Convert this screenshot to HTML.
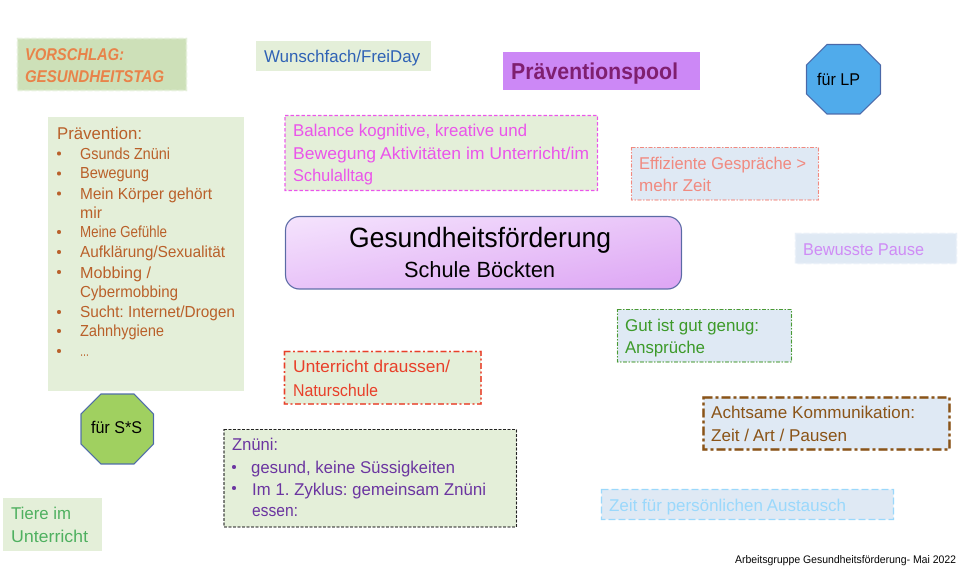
<!DOCTYPE html>
<html><head><meta charset="utf-8"><style>
html,body{margin:0;padding:0;background:#fff;width:970px;height:586px;overflow:hidden}
svg{display:block}
text{font-family:"Liberation Sans",sans-serif;font-size:17px;text-rendering:geometricPrecision}
</style></head><body>
<svg width="970" height="586" viewBox="0 0 970 586" xmlns="http://www.w3.org/2000/svg">
<defs><linearGradient id="g" x1="0" y1="0" x2="1" y2="1"><stop offset="0" stop-color="#f5e4fd"/><stop offset="1" stop-color="#dda5f4"/></linearGradient></defs>

<rect x="17.500" y="38.500" width="169" height="52" fill="#cde0b8" stroke="#e4efd9" stroke-width="1.500" stroke-dasharray="5 2"/>
<g fill="#e8834a">
<text x="25" y="60" textLength="99" lengthAdjust="spacingAndGlyphs" style="font-weight:bold;font-style:italic">VORSCHLAG:</text>
<text x="25" y="82" textLength="139" lengthAdjust="spacingAndGlyphs" style="font-weight:bold;font-style:italic">GESUNDHEITSTAG</text>
</g>

<rect x="256" y="41" width="175" height="30" fill="#e4efd9"/>
<text x="264" y="62" fill="#2f62b5" textLength="156" lengthAdjust="spacingAndGlyphs">Wunschfach/FreiDay</text>

<rect x="503" y="52" width="197" height="38" fill="#cc88f6"/>
<text x="511" y="79" fill="#7f1f70" textLength="167" lengthAdjust="spacingAndGlyphs" style="font-size:23px;font-weight:bold">Präventionspool</text>

<polygon points="827,44.500 860,44.500 880.500,65 880.500,94 860,114 827,114 806.500,94 806.500,65" fill="#50abeb" stroke="#4a68a8" stroke-width="1.200"/>
<text x="817" y="85" fill="#000" textLength="43" lengthAdjust="spacingAndGlyphs">für LP</text>

<rect x="48" y="117" width="196" height="274" fill="#e4efd9"/>
<g fill="#b9602a">
<text x="57" y="139" textLength="85" lengthAdjust="spacingAndGlyphs">Prävention:</text>
<circle cx="59" cy="153.500" r="2"/><text x="80" y="159" textLength="90" lengthAdjust="spacingAndGlyphs" style="font-size:16px">Gsunds Znüni</text>
<circle cx="59" cy="173.500" r="2"/><text x="80" y="178" textLength="69" lengthAdjust="spacingAndGlyphs" style="font-size:16px">Bewegung</text>
<circle cx="59" cy="193.500" r="2"/><text x="80" y="199" textLength="132" lengthAdjust="spacingAndGlyphs" style="font-size:16px">Mein Körper gehört</text>
<text x="80" y="218" textLength="22" lengthAdjust="spacingAndGlyphs" style="font-size:16px">mir</text>
<circle cx="59" cy="232" r="2"/><text x="80" y="237" textLength="87" lengthAdjust="spacingAndGlyphs" style="font-size:16px">Meine Gefühle</text>
<circle cx="59" cy="252" r="2"/><text x="80" y="257" textLength="145" lengthAdjust="spacingAndGlyphs" style="font-size:16px">Aufklärung/Sexualität</text>
<circle cx="59" cy="272" r="2"/><text x="80" y="278" textLength="71" lengthAdjust="spacingAndGlyphs" style="font-size:16px">Mobbing /</text>
<text x="80" y="297" textLength="98" lengthAdjust="spacingAndGlyphs" style="font-size:16px">Cybermobbing</text>
<circle cx="59" cy="312" r="2"/><text x="80" y="317" textLength="155" lengthAdjust="spacingAndGlyphs" style="font-size:16px">Sucht: Internet/Drogen</text>
<circle cx="59" cy="331" r="2"/><text x="80" y="336" textLength="84" lengthAdjust="spacingAndGlyphs" style="font-size:16px">Zahnhygiene</text>
<circle cx="59" cy="351" r="2"/><text x="80" y="356" textLength="9" lengthAdjust="spacingAndGlyphs" style="font-size:16px">…</text>
</g>

<rect x="285" y="115.500" width="312.500" height="75" fill="#e4efd9" stroke="#ea55ea" stroke-width="1.200" stroke-dasharray="3.500 2"/>
<g fill="#ea55ea">
<text x="293" y="136" textLength="234" lengthAdjust="spacingAndGlyphs">Balance kognitive, kreative und</text>
<text x="293" y="159" textLength="296" lengthAdjust="spacingAndGlyphs">Bewegung Aktivitäten im Unterricht/im</text>
<text x="293" y="181" textLength="80" lengthAdjust="spacingAndGlyphs">Schulalltag</text>
</g>

<rect x="285.500" y="216.500" width="396" height="72.500" rx="14" fill="url(#g)" stroke="#5a6aa5" stroke-width="1.200"/>
<text x="349" y="247" fill="#000" textLength="262" lengthAdjust="spacingAndGlyphs" style="font-size:28px">Gesundheitsförderung</text>
<text x="404" y="277" fill="#000" textLength="151" lengthAdjust="spacingAndGlyphs" style="font-size:22px">Schule Böckten</text>

<rect x="631.500" y="147.500" width="187" height="52.500" fill="#dfe9f4" stroke="#f08a80" stroke-width="1.100" stroke-dasharray="4 1.500 1.500 1.500"/>
<text x="639" y="169" fill="#f08a80" textLength="167" lengthAdjust="spacingAndGlyphs">Effiziente Gespräche &gt;</text>
<text x="639" y="191" fill="#f08a80" textLength="72" lengthAdjust="spacingAndGlyphs">mehr Zeit</text>

<rect x="795.500" y="233.500" width="161" height="30" fill="#dfe9f4" stroke="#e9f0f8" stroke-width="1.500" stroke-dasharray="6 2"/>
<text x="803" y="255" fill="#cf8cf5" textLength="121" lengthAdjust="spacingAndGlyphs">Bewusste Pause</text>

<rect x="617.500" y="309.500" width="174" height="52.500" fill="#dfe9f4" stroke="#4a9a35" stroke-width="1.100" stroke-dasharray="4 1.500 1.500 1.500"/>
<text x="625" y="331" fill="#3d9a2a" textLength="134" lengthAdjust="spacingAndGlyphs">Gut ist gut genug:</text>
<text x="625" y="353" fill="#3d9a2a" textLength="80" lengthAdjust="spacingAndGlyphs">Ansprüche</text>

<rect x="703.500" y="397.500" width="246" height="52" fill="#dfe9f4" stroke="#8a5418" stroke-width="2.500" stroke-dasharray="9 3 3 3"/>
<text x="711" y="418" fill="#8a5418" textLength="204" lengthAdjust="spacingAndGlyphs">Achtsame Kommunikation:</text>
<text x="711" y="441" fill="#8a5418" textLength="136" lengthAdjust="spacingAndGlyphs">Zeit / Art / Pausen</text>

<rect x="601.500" y="489.500" width="292" height="30" fill="#dfe9f4" stroke="#9bd8fb" stroke-width="1.300" stroke-dasharray="7 3"/>
<text x="609" y="511" fill="#9bd8fb" textLength="237" lengthAdjust="spacingAndGlyphs">Zeit für persönlichen Austausch</text>

<text x="735" y="563" fill="#000" textLength="221" lengthAdjust="spacingAndGlyphs" style="font-size:11px">Arbeitsgruppe Gesundheitsförderung- Mai 2022</text>

<rect x="284.500" y="351.500" width="196.500" height="52.500" fill="#e4efd9" stroke="#e8402a" stroke-width="1.600" stroke-dasharray="6 2.500 2 2.500"/>
<text x="293" y="372" fill="#e8402a" textLength="157" lengthAdjust="spacingAndGlyphs">Unterricht draussen/</text>
<text x="293" y="396" fill="#e8402a" textLength="85" lengthAdjust="spacingAndGlyphs">Naturschule</text>

<rect x="224" y="429.500" width="292.500" height="97.500" fill="#e4efd9" stroke="#222" stroke-width="1.100" stroke-dasharray="3 1.500"/>
<g fill="#6b35a0">
<text x="232" y="450" textLength="46" lengthAdjust="spacingAndGlyphs">Znüni:</text>
<circle cx="234" cy="467" r="2"/><text x="251" y="473" textLength="204" lengthAdjust="spacingAndGlyphs">gesund, keine Süssigkeiten</text>
<circle cx="234" cy="488" r="2"/><text x="252" y="495" textLength="234" lengthAdjust="spacingAndGlyphs">Im 1. Zyklus: gemeinsam Znüni</text>
<text x="252" y="516" textLength="46" lengthAdjust="spacingAndGlyphs">essen:</text>
</g>

<polygon points="101,394 134,394 153.500,414 153.500,444 134,464 101,464 81,444 81,414" fill="#a0d060" stroke="#4a68a8" stroke-width="1.200"/>
<text x="91" y="433" fill="#000" textLength="51" lengthAdjust="spacingAndGlyphs">für S*S</text>

<rect x="3" y="498" width="99" height="53" fill="#e4efd9"/>
<text x="11" y="519" fill="#4fb060" textLength="60" lengthAdjust="spacingAndGlyphs">Tiere im</text>
<text x="11" y="542" fill="#4fb060" textLength="77" lengthAdjust="spacingAndGlyphs">Unterricht</text>
</svg>
</body></html>
